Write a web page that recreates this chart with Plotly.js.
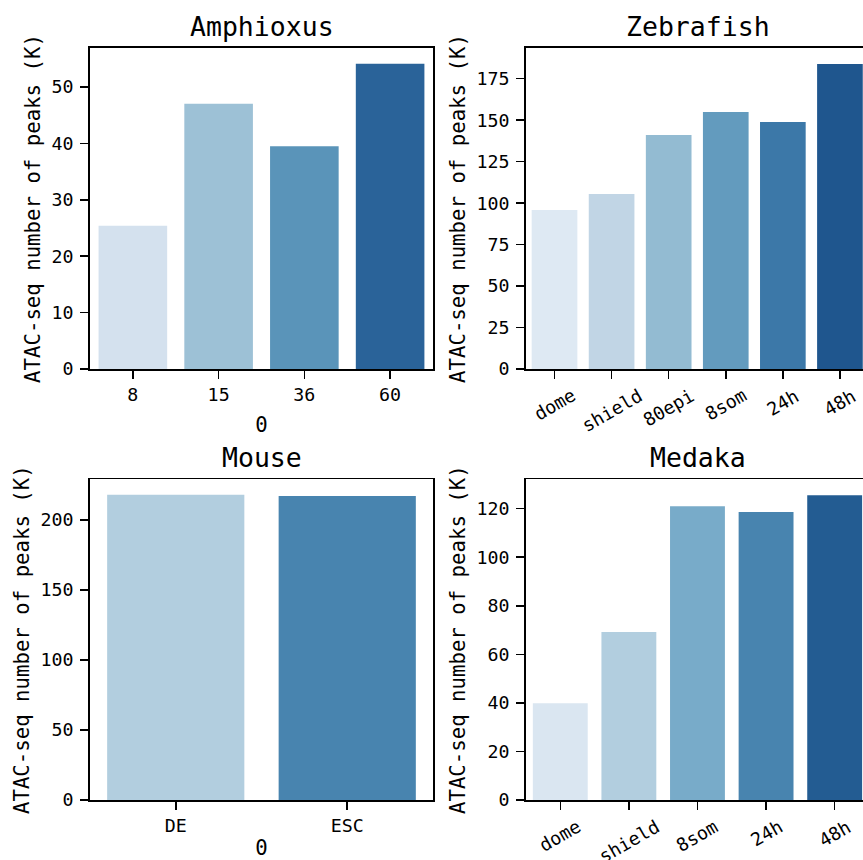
<!DOCTYPE html>
<html>
<head>
<meta charset="utf-8">
<script src="https://cdn.plot.ly/plotly-3.0.1.min.js"></script>
<style>
  html, body { margin: 0; padding: 0; background: #fff; }
  #chart { width: 863px; height: 860px; }
</style>
</head>
<body>
<div id="chart"></div>
<script>
// ATAC-seq peak counts (thousands) per developmental stage, one panel per species
const amphioxusStages = ["8", "15", "36", "60"];
const amphioxusPeaks = [25.4, 47.0, 39.5, 54.1];
const amphioxusColors = ["#d4e1ee", "#9dc1d6", "#5a94b9", "#2a6399"];

const zebrafishStages = ["dome", "shield", "80epi", "8som", "24h", "48h"];
const zebrafishPeaks = [95.8, 105.5, 141.0, 154.9, 148.9, 183.8];
const zebrafishColors = ["#dee9f3", "#c1d5e5", "#93bbd2", "#639bbe", "#3c78a8", "#1f568e"];

const mouseStages = ["DE", "ESC"];
const mousePeaks = [217.9, 217.1];
const mouseColors = ["#b2cedf", "#4884af"];

const medakaStages = ["dome", "shield", "8som", "24h", "48h"];
const medakaPeaks = [39.8, 69.2, 121.0, 118.6, 125.5];
const medakaColors = ["#dae6f1", "#b2cedf", "#78abc9", "#4884af", "#235c92"];

const panelTitles = ["Amphioxus", "Zebrafish", "Mouse", "Medaka"];
const yLabel = "ATAC-seq number of peaks (K)";
const xLabel = "0";

const FONT = "DejaVu Sans Mono, monospace";
const TICK = 18.3, LABEL = 20.7, TITLE = 26.5;

function bars(x, y, colors, xa, ya) {
  return {
    type: "bar", x: x, y: y, xaxis: xa, yaxis: ya,
    marker: { color: colors, line: { width: 0 } },
    hoverinfo: "x+y", showlegend: false
  };
}

const data = [
  bars(amphioxusStages, amphioxusPeaks, amphioxusColors, "x", "y"),
  bars(zebrafishStages, zebrafishPeaks, zebrafishColors, "x2", "y2"),
  bars(mouseStages, mousePeaks, mouseColors, "x3", "y3"),
  bars(medakaStages, medakaPeaks, medakaColors, "x4", "y4")
];

function xax(domain, anchor, visible, showLabels, title) {
  const ax = {
    type: "category", domain: domain, anchor: anchor,
    range: [-0.5, -0.5 + visible],
    showline: true, linecolor: "#000", linewidth: 1.7, mirror: true,
    ticks: "outside", ticklen: 8, tickwidth: 1.5, tickcolor: "#000",
    showticklabels: showLabels,
    tickfont: { family: FONT, size: TICK, color: "#000" },
    showgrid: false, zeroline: false, fixedrange: true
  };
  if (title) ax.title = { text: title, font: { family: FONT, size: LABEL, color: "#000" }, standoff: 14 };
  return ax;
}

function yax(domain, anchor, max, dtick, mirror) {
  return {
    domain: domain, anchor: anchor, range: [0, max], dtick: dtick,
    showline: true, linecolor: "#000", linewidth: 1.7, mirror: mirror,
    ticks: "outside", ticklen: 8, tickwidth: 1.5, tickcolor: "#000",
    ticklabelstandoff: 3,
    tickfont: { family: FONT, size: TICK, color: "#000" },
    showgrid: false, zeroline: false, fixedrange: true,
    title: { text: yLabel, font: { family: FONT, size: LABEL, color: "#000" }, standoff: 5 }
  };
}

const leftX = [0, 0.4437], rightX = [0.5640, 1];
const topY = [0.5731, 1], botY = [0, 0.4265];

function titleAnn(text, x, y) {
  return {
    text: text, xref: "paper", yref: "paper", x: x, y: y,
    xanchor: "center", yanchor: "bottom", showarrow: false, yshift: 4,
    font: { family: FONT, size: TITLE, color: "#000" }
  };
}

// rotated stage labels, centred under each category tick
function stageLabels(stages, xref, yBottom) {
  return stages.map(s => ({
    text: s, xref: xref, yref: "paper", x: s, y: yBottom,
    xanchor: "center", yanchor: "top", yshift: -13, textangle: -30,
    showarrow: false, font: { family: FONT, size: TICK, color: "#000" }
  }));
}

const layout = {
  width: 863, height: 860,
  margin: { l: 90, r: 0, t: 48, b: 60 },
  paper_bgcolor: "#fff", plot_bgcolor: "#fff",
  bargap: 0.2,
  xaxis: xax(leftX, "y", 4, true, xLabel),
  yaxis: yax(topY, "x", 56.9, 10, true),
  xaxis2: xax(rightX, "y2", 5.904, false, null),
  yaxis2: yax(topY, "x2", 193.5, 25, false),
  xaxis3: xax(leftX, "y3", 2, true, xLabel),
  yaxis3: yax(botY, "x3", 229, 50, true),
  xaxis4: xax(rightX, "y4", 4.913, false, null),
  yaxis4: yax(botY, "x4", 132.1, 20, false),
  annotations: [
    titleAnn(panelTitles[0], 0.2219, 1),
    titleAnn(panelTitles[1], 0.7859, 1),
    titleAnn(panelTitles[2], 0.2219, 0.4265),
    titleAnn(panelTitles[3], 0.7859, 0.4265)
  ].concat(stageLabels(zebrafishStages, "x2", topY[0]))
   .concat(stageLabels(medakaStages, "x4", botY[0]))
};

Plotly.newPlot("chart", data, layout, { displayModeBar: false, staticPlot: true });
</script>
</body>
</html>
